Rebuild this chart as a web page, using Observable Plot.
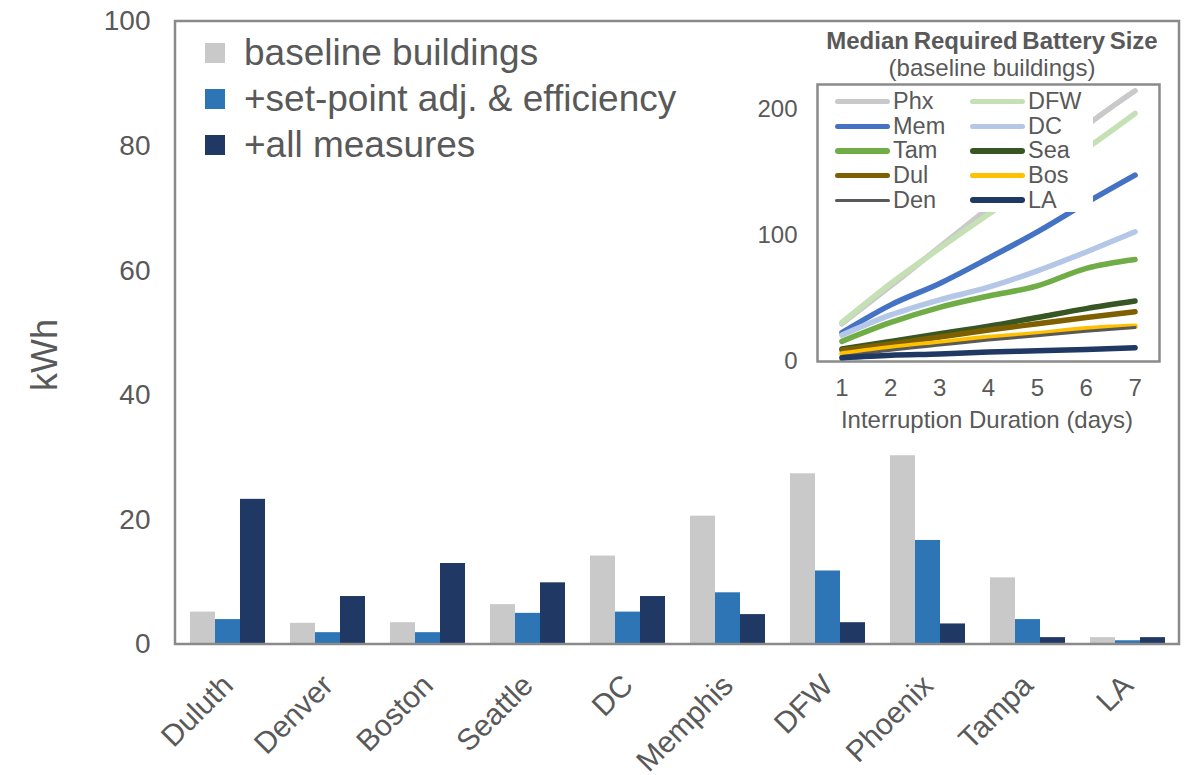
<!DOCTYPE html>
<html>
<head>
<meta charset="utf-8">
<script src="https://cdn.jsdelivr.net/npm/d3@7"></script>
<script src="https://cdn.jsdelivr.net/npm/@observablehq/plot@0.6"></script>
<style>
  html, body { margin: 0; padding: 0; background: #fff; }
  #wrap { position: relative; width: 1196px; height: 775px; overflow: hidden; font-family: "Liberation Sans", Arial, sans-serif; color: #595959; }
  .abs { position: absolute; }
  .legrow { position: absolute; display: flex; align-items: center; white-space: nowrap; }
  .sw { width: 20px; height: 20px; margin-right: 19px; }
  .ilegrow { position: absolute; display: flex; align-items: center; white-space: nowrap; font-size: 23.5px; color: #595959; }
  .iline { width: 55px; border-radius: 3px; margin-right: 3px; }
</style>
</head>
<body>
<div id="wrap"></div>
<script>
// ---------------- data ----------------
const cities = ["Duluth", "Denver", "Boston", "Seattle", "DC", "Memphis", "DFW", "Phoenix", "Tampa", "LA"];
const seriesNames = ["baseline buildings", "+set-point adj. & efficiency", "+all measures"];
const baseline   = [5.2, 3.4, 3.5, 6.4, 14.2, 20.6, 27.4, 30.3, 10.7, 1.1];
const setpoint   = [4.0, 1.9, 1.9, 5.0, 5.2, 8.3, 11.8, 16.7, 4.0, 0.6];
const allMeasure = [23.3, 7.7, 13.0, 9.9, 7.7, 4.8, 3.5, 3.3, 1.1, 1.1];
const seriesColors = ["#c9c9c9", "#2e75b6", "#203864"];
const yTicks = [0, 20, 40, 60, 80, 100];

// inset
const days = [1, 2, 3, 4, 5, 6, 7];
const insetNames = ["Phx", "DFW", "Mem", "DC", "Tam", "Sea", "Dul", "Bos", "Den", "LA"];
const phx = [30, 60, 91, 122, 153, 187, 215];
const dfw = [31, 62, 90, 117, 143, 169, 197];
const mem = [23, 45, 62, 82, 103, 126, 148];
const dcv = [21, 37, 49, 59, 72, 87, 103];
const tam = [16, 31, 43, 52, 60, 74, 81];
const sea = [10, 16, 22, 28, 35, 42, 48];
const dul = [9, 14, 19.5, 25, 30, 35, 39.5];
const bos = [6, 11, 15, 19, 22, 26, 28];
const den = [4, 9, 13, 17, 20.5, 24, 27];
const la  = [3, 5, 6, 7.5, 8.5, 9.5, 11];
const insetColors = ["#c9c9c9", "#c5e0b4", "#4472c4", "#b4c7e7", "#70ad47", "#375623", "#7f6000", "#ffc000", "#595959", "#203864"];
const insetWidths = [5.5, 5.5, 5.5, 5.5, 5.5, 5.5, 5.5, 5.5, 3, 5.5];
const insetYTicks = [0, 100, 200];

// ---------------- tables ----------------
const seriesValues = [baseline, setpoint, allMeasure];
const bars = [];
cities.forEach((c, i) => seriesNames.forEach((s, j) => bars.push({city: c, series: s, value: seriesValues[j][i]})));

const insetValues = [phx, dfw, mem, dcv, tam, sea, dul, bos, den, la];
const lines = [];
insetNames.forEach((n, k) => days.forEach((d, i) => lines.push({name: n, day: d, value: insetValues[k][i]})));

const wrap = document.getElementById("wrap");
const FONT = "'Liberation Sans', Arial, sans-serif";

// ---------------- main chart ----------------
const main = Plot.plot({
  width: 1196,
  height: 775,
  marginLeft: 175,
  marginRight: 17,
  marginTop: 21,
  marginBottom: 131,
  style: {fontFamily: FONT, color: "#595959", background: "transparent", overflow: "visible"},
  fx: {domain: cities, paddingInner: 0.25, paddingOuter: 0.125, label: null},
  x: {domain: seriesNames, padding: 0, axis: null},
  y: {domain: [0, 100], label: null},
  color: {domain: seriesNames, range: seriesColors},
  marks: [
    Plot.barY(bars, {fx: "city", x: "series", y: "value", fill: "series"}),
    Plot.axisY({ticks: yTicks, tickSize: 0, tickPadding: 40, fontSize: 28, fill: "#595959", label: null}),
    Plot.axisFx({anchor: "bottom", tickSize: 0, tickPadding: 36, tickRotate: -45, fontSize: 30, fill: "#595959", label: null})
  ]
});
main.classList.add("abs");
main.style.left = "0px";
main.style.top = "0px";
wrap.appendChild(main);

// frame around the main plot area, derived from the scales
{
  const fxr = main.scale("fx").range;
  const yr = main.scale("y").range;
  d3.select(main).append("rect")
    .attr("x", Math.min(...fxr)).attr("y", Math.min(...yr))
    .attr("width", Math.abs(fxr[1] - fxr[0])).attr("height", Math.abs(yr[0] - yr[1]))
    .attr("fill", "none").attr("stroke", "#8a8a8a").attr("stroke-width", 2.5);
}

// y label
const ylab = document.createElement("div");
ylab.className = "abs";
ylab.textContent = "kWh";
Object.assign(ylab.style, {left: "5px", top: "335px", width: "80px", textAlign: "center", fontSize: "36px", transform: "rotate(-90deg)", transformOrigin: "40px 20px", lineHeight: "40px"});
wrap.appendChild(ylab);

// main legend
const legTops = [53, 99, 145];
seriesNames.forEach((s, j) => {
  const row = document.createElement("div");
  row.className = "legrow";
  Object.assign(row.style, {left: "205px", top: (legTops[j] - 22) + "px", height: "44px", fontSize: "37px"});
  const sw = document.createElement("div");
  sw.className = "sw";
  sw.style.background = seriesColors[j];
  const t = document.createElement("span");
  t.textContent = s;
  row.appendChild(sw); row.appendChild(t);
  wrap.appendChild(row);
});

// ---------------- inset chart ----------------
const inset = Plot.plot({
  width: 440,
  height: 415,
  marginLeft: 77,
  marginRight: 21,
  marginTop: 59,
  marginBottom: 79,
  style: {fontFamily: FONT, color: "#595959", background: "transparent", overflow: "visible"},
  x: {domain: [0.5, 7.5], label: null},
  y: {domain: [0, 220], label: null},
  marks: [
    Plot.frame({stroke: "#8a8a8a", strokeWidth: 2.5}),
    ...insetNames.map((n, k) =>
      Plot.line(lines.filter(d => d.name === n), {x: "day", y: "value", stroke: insetColors[k], strokeWidth: insetWidths[k], curve: "monotone-x", strokeLinecap: "round", strokeLinejoin: "round"})
    ),
    Plot.axisY({ticks: insetYTicks, tickSize: 0, tickPadding: 20, fontSize: 24, fill: "#595959", label: null}),
    Plot.axisX({ticks: days, tickSize: 0, tickPadding: 17, fontSize: 24, fill: "#595959", label: null, tickFormat: d => String(d)})
  ]
});
inset.classList.add("abs");
inset.style.left = "740px";
inset.style.top = "25px";
wrap.appendChild(inset);

// inset titles
function addText(txt, cx, cy, size, weight, extra) {
  const d = document.createElement("div");
  d.className = "abs";
  d.textContent = txt;
  Object.assign(d.style, {left: (cx - 250) + "px", top: (cy - 15) + "px", width: "500px", height: "30px", lineHeight: "30px", textAlign: "center", fontSize: size + "px", fontWeight: weight, color: "#595959", whiteSpace: "nowrap"}, extra || {});
  wrap.appendChild(d);
}
addText("Median Required Battery Size", 992, 41, 24, "bold", {wordSpacing: "-2px"});
addText("(baseline buildings)", 992, 68, 24, "normal");
addText("Interruption Duration (days)", 987, 420, 24, "normal");

// inset legend (white box hides lines beneath it, as in the reference)
const ilegBox = document.createElement("div");
ilegBox.className = "abs";
Object.assign(ilegBox.style, {left: "829px", top: "89px", width: "264px", height: "123px", background: "#fff"});
wrap.appendChild(ilegBox);
const rowY = [101.7, 126.3, 150.9, 175.5, 200.1];
insetNames.forEach((n, k) => {
  const col = k % 2, r = Math.floor(k / 2);
  const row = document.createElement("div");
  row.className = "ilegrow";
  Object.assign(row.style, {left: (col ? 970 : 835) + "px", top: (rowY[r] - 13) + "px", height: "26px"});
  const ln = document.createElement("div");
  ln.className = "iline";
  ln.style.height = insetWidths[k] + "px";
  ln.style.background = insetColors[k];
  const t = document.createElement("span");
  t.textContent = n;
  row.appendChild(ln); row.appendChild(t);
  wrap.appendChild(row);
});
</script>
</body>
</html>
